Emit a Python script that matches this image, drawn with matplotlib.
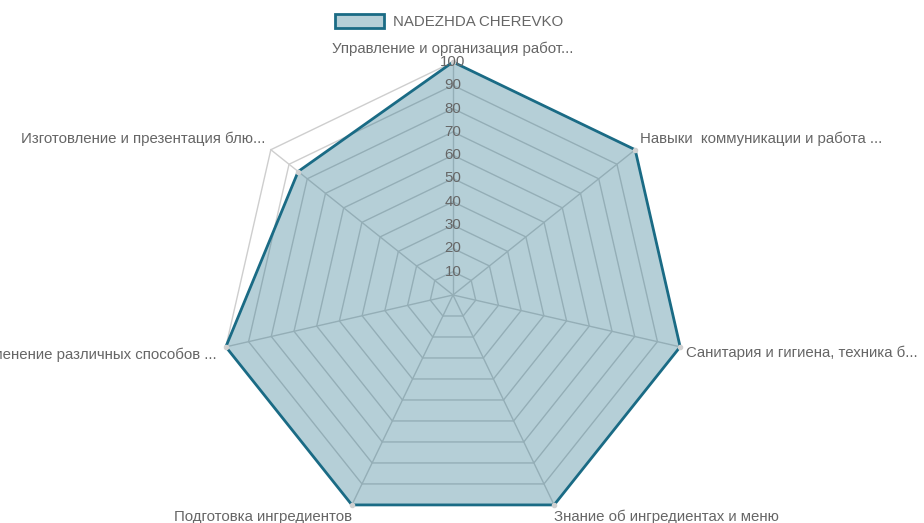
import numpy as np
import matplotlib
matplotlib.use("Agg")
from matplotlib import pyplot as plt
from matplotlib.patches import Patch
from matplotlib.colors import to_rgba

plt.rcParams['font.family'] = ['Liberation Sans', 'DejaVu Sans']

categories = [
    "Управление и организация работ...",
    "Навыки  коммуникации и работа ...",
    "Санитария и гигиена, техника б...",
    "Знание об ингредиентах и меню",
    "Подготовка ингредиентов",
    "Применение различных способов ...",
    "Изготовление и презентация блю...",
]
values = [100, 100, 100, 100, 100, 100, 85]
series_name = "NADEZHDA CHEREVKO"
ticks = [10, 20, 30, 40, 50, 60, 70, 80, 90, 100]

edge = "#1a6b85"
fill = to_rgba("#1a6b85", 0.32)
grid = "#cecece"
txt = "#666666"
fs = 10.8

n = len(categories)
ang = np.pi / 2 - np.arange(n) * 2 * np.pi / n
cx, cy = np.cos(ang), np.sin(ang)

fig = plt.figure(figsize=(9.24, 5.23), dpi=100)
ax = fig.add_axes([0, 0, 1, 1])
s = 100 / 233.0
ax.set_xlim(-453 * s, (924 - 453) * s)
ax.set_ylim(-(523 - 295) * s, 295 * s)
ax.axis("off")

# polygon grid + spokes
for t in ticks:
    ax.plot(np.append(cx, cx[0]) * t, np.append(cy, cy[0]) * t,
            color=grid, lw=1, zorder=1)
for i in range(n):
    ax.plot([0, cx[i] * 100], [0, cy[i] * 100], color=grid, lw=1, zorder=1)

# data
v = np.array(values, dtype=float)
px, py = cx * v, cy * v
ax.fill(px, py, color=fill, lw=0, zorder=2)
ax.plot(np.append(px, px[0]), np.append(py, py[0]), color=edge, lw=2, zorder=3)
ax.plot(px, py, 'o', ms=3, color="#d0d0d0", zorder=4)

# tick labels
for t in ticks:
    ax.text(0, t, str(t), ha="center", va="center", fontsize=fs,
            color=txt, zorder=5)

# axis labels: (ha, va, offset in pixels)
place = [
    ("center", "bottom", (0, 6)),
    ("left", "bottom", (5, 4)),
    ("left", "top", (6, 1)),
    ("left", "top", (0, -5)),
    ("right", "top", (0, -5)),
    ("right", "center", (-9, -8)),
    ("right", "bottom", (-5, 4)),
]
for i, lab in enumerate(categories):
    ha, va, off = place[i]
    ax.annotate(lab, (cx[i] * 100, cy[i] * 100), xytext=off,
                textcoords="offset pixels", ha=ha, va=va,
                fontsize=fs, color=txt)

leg = ax.legend(handles=[Patch(facecolor=fill, edgecolor=edge, lw=2)],
                labels=[series_name], loc="upper center",
                bbox_to_anchor=(0.486, 1.0), frameon=False, fontsize=fs,
                handlelength=3.3, handleheight=1.1, handletextpad=0.6,
                labelcolor=txt)

fig.savefig("out.png", dpi=100)
